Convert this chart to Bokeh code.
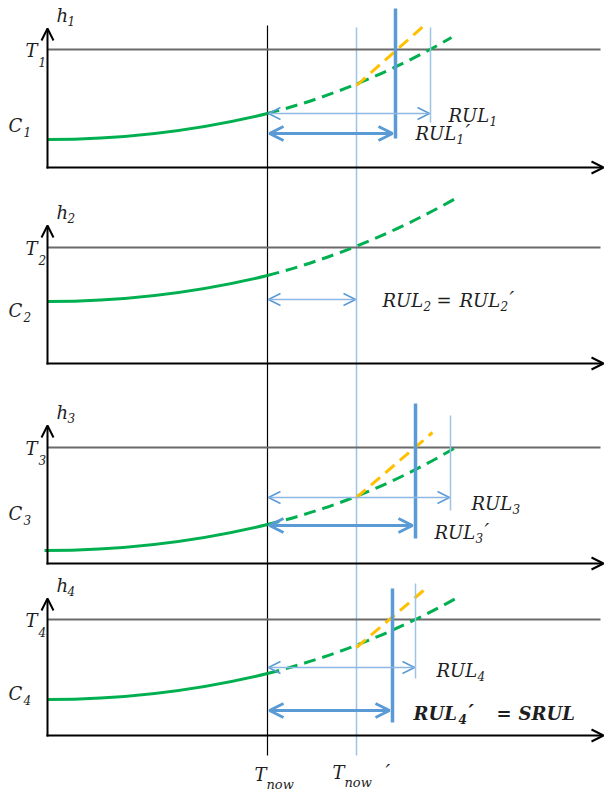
from bokeh.plotting import figure
from bokeh.models import Range1d, Arrow, OpenHead, ColumnDataSource
from bokeh.core.properties import value
from bokeh.embed import file_html
from bokeh.resources import INLINE

# ---- schematic data (reference pixel frame: x to the right, y downwards) ----
axis_x = 47
x_axis_end = 603
t_now = 267            # T_now
t_now_p = 356          # T_now'
t_now_top, t_now_bottom = 25, 755
t_now_p_top = 27

# one entry per panel
y_axis_top  = [28, 225, 425, 598]
x_axis_y    = [167, 363, 563, 735]
threshold_y = [49, 247, 447, 619]
# green history curve: start, control, value at T_now
green_x0    = [47, 47, 44, 47]
green_y0    = [139, 301, 550, 699]
green_cx    = [160, 160, 160, 160]
green_cy    = [139, 301, 550, 699]
green_ynow  = [113, 275, 524, 673]
# green prediction (dashed): control and end
pred_cx     = [363, 363, 366, 366]
pred_cy     = [88, 250, 500, 648]
pred_x1     = [451, 455, 455, 457]
pred_y1     = [37, 198, 447, 597]
# orange updated prediction (from T_now'), panels 1,3,4
orange_y0   = [85, None, 497, 647]
orange_x1   = [426, None, 432, 423]
orange_y1   = [23, None, 432, 590]
# RUL (thin) and RUL' (thick) ends
rul_x       = [430, 356, 450, 415]
rul_v_top   = [27, None, 415, 583]
rul_v_bot   = [122, None, 510, 678]
rul_arrow_y = [113, 299, 497, 667]
rulp_x      = [395, None, 415, 392]
rulp_v_top  = [8, None, 403, 588]
rulp_v_bot  = [138, None, 538, 722]
rulp_arrow_y= [133, None, 525, 710]

panel_index = ["1", "2", "3", "4"]
c_label_y   = [125, 310, 513, 693]

GREEN = "#00b050"
ORANGE = "#ffc000"
BLUE = "#5b9bd5"
LBLUE = "#9dc3e6"
GREY = "#6a6a6a"
TXT = "#1e1e1e"
FONT = value("DejaVu Serif")
BASE = 18
SUB = 12

# text runs: (text, x, y, size, style)
runs = []
def base(t, x, y, bold=False):
    runs.append((t, x, y, BASE, "bold italic" if bold else "italic"))
def sub(t, x, y, bold=False):
    runs.append((t, x, y + 5, SUB, "bold italic" if bold else "italic"))
def prime(x, y, bold=False):
    runs.append(("′", x, y - 2, 21, "bold italic" if bold else "italic"))

for i in range(4):
    k = panel_index[i]
    base("h", axis_x + 9, y_axis_top[i] - 13); sub(k, axis_x + 20, y_axis_top[i] - 13)
    base("T", 25, threshold_y[i] + 1); sub(k, 38, threshold_y[i] + 7)
    base("C", 8, c_label_y[i]); sub(k, 23, c_label_y[i] + 1)

# RUL labels
base("RUL", 448, 115); sub("1", 489, 115)
base("RUL", 415, 133); sub("1", 456, 133); prime(465, 133)
base("RUL", 382, 300); sub("2", 423, 300)
base("=", 436, 300)
base("RUL", 459, 300); sub("2", 500, 300); prime(509, 300)
base("RUL", 471, 503); sub("3", 512, 503)
base("RUL", 434, 532); sub("3", 475, 532); prime(484, 532)
base("RUL", 436, 670); sub("4", 477, 670)
base("RUL", 413, 713, True); sub("4", 458, 713, True); prime(468, 713, True)
base("=", 496, 713, True)
base("SRUL", 518, 713, True)
# T_now / T_now'
base("T", t_now - 13, 774); runs.append(("now", t_now - 1, 784, 13, "italic"))
base("T", t_now_p - 24, 772); runs.append(("now", t_now_p - 12, 782, 13, "italic"))
prime(t_now_p + 29, 773)

p = figure(width=608, height=795, output_backend="svg", toolbar_location=None,
           x_range=Range1d(0, 608), y_range=Range1d(795, 0), min_border=0)
p.axis.visible = False
p.grid.visible = False
p.outline_line_color = None
p.background_fill_color = "white"

# vertical time markers
p.segment(x0=[t_now], y0=[t_now_top], x1=[t_now], y1=[t_now_bottom], line_color="black", line_width=1.2)
p.segment(x0=[t_now_p], y0=[t_now_p_top], x1=[t_now_p], y1=[t_now_bottom], line_color=LBLUE, line_width=1.5)

for i in range(4):
    p.segment(x0=[axis_x], y0=[threshold_y[i]], x1=[600], y1=[threshold_y[i]],
              line_color=GREY, line_width=2)
    p.add_layout(Arrow(end=OpenHead(size=12, line_width=2, line_color="black"),
                       x_start=axis_x, y_start=x_axis_y[i] + 1, x_end=axis_x, y_end=y_axis_top[i],
                       line_color="black", line_width=2))
    p.add_layout(Arrow(end=OpenHead(size=12, line_width=2, line_color="black"),
                       x_start=axis_x - 1, y_start=x_axis_y[i], x_end=x_axis_end, y_end=x_axis_y[i],
                       line_color="black", line_width=2))
    p.quadratic(x0=[green_x0[i]], y0=[green_y0[i]], x1=[t_now], y1=[green_ynow[i]],
                cx=[green_cx[i]], cy=[green_cy[i]], line_color=GREEN, line_width=3)
    p.quadratic(x0=[t_now], y0=[green_ynow[i]], x1=[pred_x1[i]], y1=[pred_y1[i]],
                cx=[pred_cx[i]], cy=[pred_cy[i]], line_color=GREEN, line_width=3, line_dash="12 7")
    if orange_y0[i] is not None:
        p.segment(x0=[t_now_p], y0=[orange_y0[i]], x1=[orange_x1[i]], y1=[orange_y1[i]],
                  line_color=ORANGE, line_width=3, line_dash="12 7")
    if rul_v_top[i] is not None:
        p.segment(x0=[rul_x[i]], y0=[rul_v_top[i]], x1=[rul_x[i]], y1=[rul_v_bot[i]],
                  line_color=LBLUE, line_width=1.5)
    p.add_layout(Arrow(start=OpenHead(size=12, line_width=1.5, line_color=BLUE),
                       end=OpenHead(size=12, line_width=1.5, line_color=BLUE),
                       x_start=t_now + 1, y_start=rul_arrow_y[i], x_end=rul_x[i] - 1, y_end=rul_arrow_y[i],
                       line_color="#8db8e3", line_width=1.5))
    if rulp_x[i] is not None:
        p.segment(x0=[rulp_x[i]], y0=[rulp_v_top[i]], x1=[rulp_x[i]], y1=[rulp_v_bot[i]],
                  line_color=BLUE, line_width=3.5)
        p.add_layout(Arrow(start=OpenHead(size=14, line_width=3, line_color=BLUE),
                           end=OpenHead(size=14, line_width=3, line_color=BLUE),
                           x_start=t_now + 2, y_start=rulp_arrow_y[i], x_end=rulp_x[i] - 3, y_end=rulp_arrow_y[i],
                           line_color=BLUE, line_width=3))

groups = {}
for t, x, y, s, st in runs:
    groups.setdefault((s, st), []).append((t, x, y))
for (s, st), items in groups.items():
    src = ColumnDataSource(dict(text=[a[0] for a in items], x=[a[1] for a in items], y=[a[2] for a in items]))
    p.text(x="x", y="y", text="text", source=src, text_font=FONT, text_font_style=st,
           text_font_size=f"{s}px", text_baseline="middle", text_color=TXT)

open("out.html", "w").write(file_html(p, INLINE))
